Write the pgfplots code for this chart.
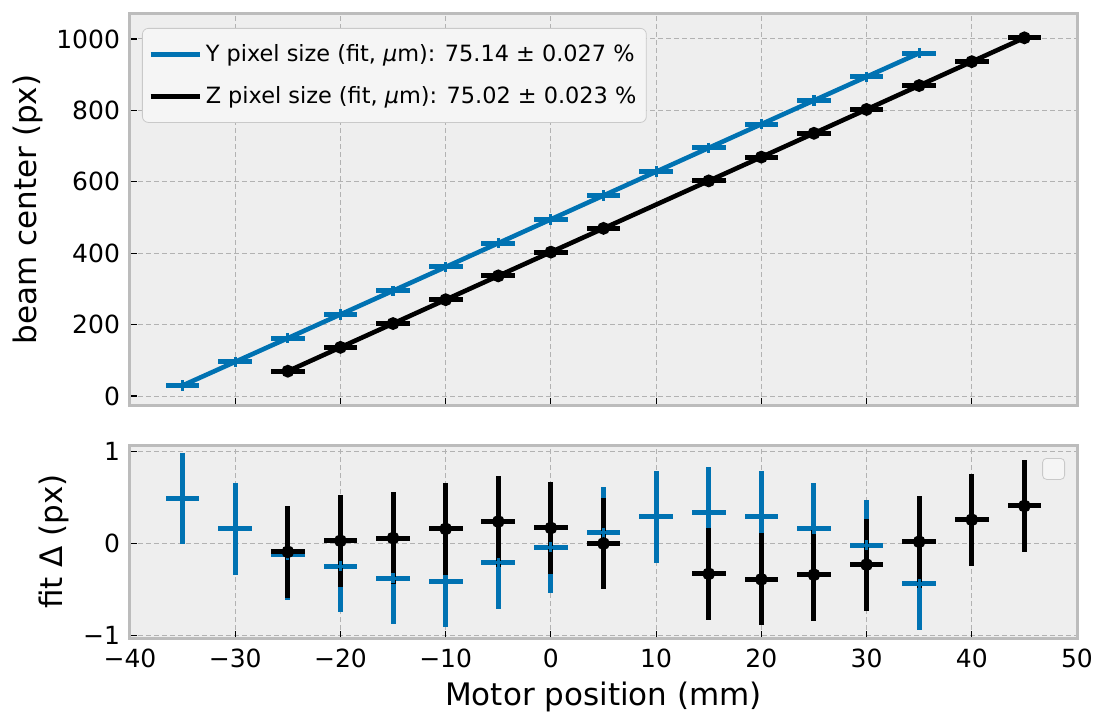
\documentclass[border=0pt]{standalone}
\usepackage{fontspec}
\setmainfont{DejaVu Sans}
\usepackage{pgfplots}
\usepackage{pgfplotstable}
\pgfplotsset{compat=1.18}
\definecolor{bl}{HTML}{0072B2}
\definecolor{framec}{HTML}{BCBCBC}
\definecolor{bgc}{HTML}{EEEEEE}
\definecolor{gridc}{HTML}{B2B2B2}

\pgfplotstableread{
x y ex ey
-35 29.71 1.6 0.5
-30 95.92 1.6 0.5
-25 162.18 1.6 0.5
-20 228.59 1.6 0.5
-15 295.00 1.6 0.5
-10 361.51 1.6 0.5
-5 428.25 1.6 0.5
0 494.96 1.6 0.5
5 561.66 1.6 0.5
10 628.37 1.6 0.5
15 694.96 1.6 0.5
20 761.45 1.6 0.5
25 827.86 1.6 0.5
30 894.22 1.6 0.5
35 960.34 1.6 0.5
}\Ytop

\pgfplotstableread{
x y ex ey
-25 69.66 1.6 0.5
-20 136.43 1.6 0.5
-15 203.11 1.6 0.5
-10 269.86 1.6 0.5
-5 336.59 1.6 0.5
0 403.17 1.6 0.5
5 469.65 1.6 0.5
15 602.62 1.6 0.5
20 669.21 1.6 0.5
25 735.91 1.6 0.5
30 802.67 1.6 0.5
35 869.57 1.6 0.5
40 936.46 1.6 0.5
45 1003.26 1.6 0.5
}\Ztop

\pgfplotstableread{
x y ex ey
-35 0.49 1.6 0.5
-30 0.16 1.6 0.5
-25 -0.12 1.6 0.5
-20 -0.25 1.6 0.5
-15 -0.38 1.6 0.5
-10 -0.41 1.6 0.5
-5 -0.21 1.6 0.5
0 -0.04 1.6 0.5
5 0.12 1.6 0.5
10 0.29 1.6 0.5
15 0.34 1.6 0.5
20 0.29 1.6 0.5
25 0.16 1.6 0.5
30 -0.02 1.6 0.5
35 -0.44 1.6 0.5
}\Yres

\pgfplotstableread{
x y ex ey
-25 -0.09 1.6 0.5
-20 0.03 1.6 0.5
-15 0.06 1.6 0.5
-10 0.16 1.6 0.5
-5 0.24 1.6 0.5
0 0.17 1.6 0.5
5 0.00 1.6 0.5
15 -0.33 1.6 0.5
20 -0.39 1.6 0.5
25 -0.34 1.6 0.5
30 -0.23 1.6 0.5
35 0.02 1.6 0.5
40 0.26 1.6 0.5
45 0.41 1.6 0.5
}\Zres

\pgfplotsset{
 mystyle/.style={
  scale only axis, width=473.5pt,
  xmin=-40, xmax=50,
  axis background/.style={fill=bgc},
  axis line style={draw=framec, line width=1.5pt},
  grid=major,
  major grid style={draw=gridc, line width=0.5pt, dash pattern=on 2.5pt off 1.5pt},
  tick style={black, line width=0.6pt},
  major tick length=3.5pt,
  xtick pos=bottom, ytick pos=left,
  tick label style={font=\fontsize{12.5}{15}\selectfont},
  xticklabel style={yshift=-2pt},
  yticklabel style={xshift=-1.5pt},
  label style={font=\fontsize{15.5}{18}\selectfont},
  xtick={-40,-30,...,50},
 },
 eb/.style={error bars/.cd, x dir=both, x explicit, y dir=both, y explicit,
   error mark=none, error bar style={line width=2.5pt, #1}},
}

\begin{document}
\begin{tikzpicture}
\path[use as bounding box] (-65pt,-37.5pt) rectangle (483.5pt,319pt);
\begin{axis}[mystyle, at={(0,116.5pt)}, height=195.5pt,
  ymin=-25, ymax=1070, ytick={0,200,...,1000},
  yticklabels={0,200,400,600,800,1000}, xticklabels={},
  ylabel={beam center (px)},
  legend cell align=left,
  legend image code/.code={\draw[#1, line width=2.2pt] (0pt,0pt) -- (24.5pt,0pt);},
  legend style={at={(axis description cs:0,1)}, anchor=north west,
    xshift=6pt, yshift=-7pt, draw=gridc!70, fill=bgc!60!white, rounded corners=3pt,
    font=\fontsize{11.2}{13.5}\selectfont, inner xsep=3pt, inner ysep=6pt, row sep=7pt},
]
\addlegendimage{bl}
\addlegendentry{Y pixel size (fit, {\itshape μ}m): 75.14 ± 0.027 \%}
\addlegendimage{black}
\addlegendentry{Z pixel size (fit, {\itshape μ}m): 75.02 ± 0.023 \%}
\addplot[bl, line width=2.3pt, mark=+, mark size=2.6pt, mark options={line width=1.6pt}, forget plot, eb=bl]
  table[x=x, y=y, x error=ex, y error=ey]{\Ytop};
\addplot[black, line width=2.3pt, mark=*, mark size=2.6pt, mark options={line width=1.2pt}, forget plot, eb=black]
  table[x=x, y=y, x error=ex, y error=ey]{\Ztop};
\end{axis}

\begin{axis}[mystyle, at={(0,0)}, height=96.5pt,
  ymin=-1.03, ymax=1.075, ytick={-1,0,1}, yticklabels={−1,0,1},
  xticklabels={−40,−30,−20,−10,0,10,20,30,40,50},
  xlabel={Motor position (mm)}, ylabel={fit Δ (px)},
]
\addplot[bl, only marks, mark=+, mark size=2.5pt, mark options={line width=1.6pt}, eb=bl]
  table[x=x, y=y, x error=ex, y error=ey]{\Yres};
\addplot[black, only marks, mark=*, mark size=2.6pt, mark options={line width=1.2pt}, eb=black]
  table[x=x, y=y, x error=ex, y error=ey]{\Zres};
\node[draw=gridc!70, fill=bgc!60!white, rounded corners=2pt, minimum width=11pt,
  minimum height=10.5pt, inner sep=0pt, anchor=north east]
  at ([xshift=-6pt, yshift=-6.5pt]rel axis cs:1,1) {};
\end{axis}
\end{tikzpicture}
\end{document}
